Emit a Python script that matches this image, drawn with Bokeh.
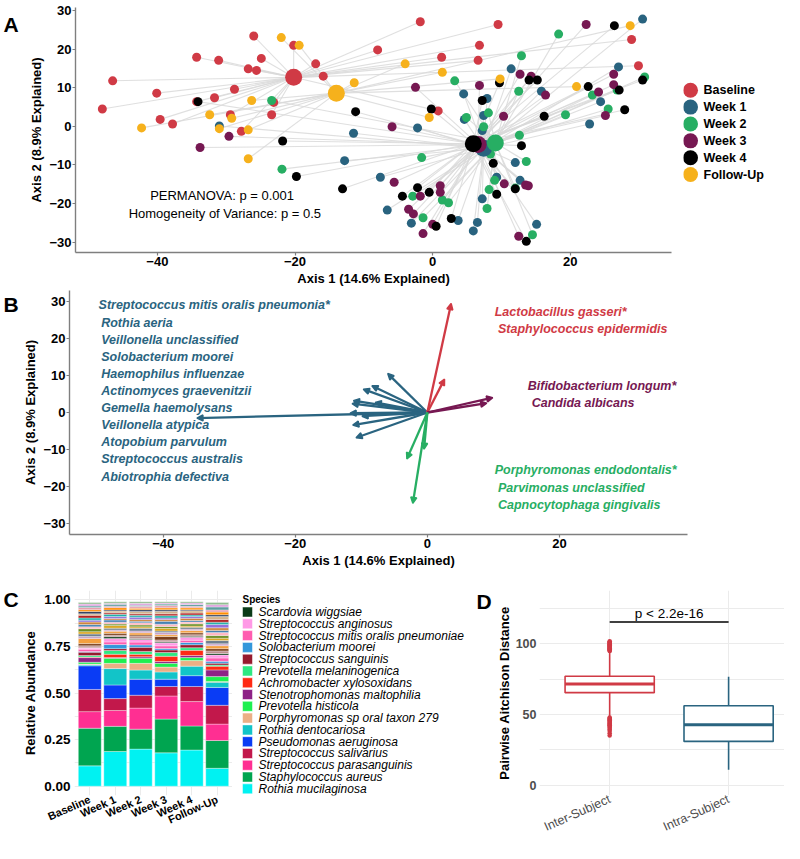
from bokeh.plotting import figure
from bokeh.layouts import column, row
from bokeh.models import (ColumnDataSource, Range1d, Arrow, NormalHead, FixedTicker,
                          NumeralTickFormatter)
from bokeh.embed import file_html
from bokeh.resources import INLINE
from bokeh.core.properties import value

FONT = "Liberation Sans"

# ---------------- Panel A data (PCA of Aitchison distance) ----------------
groups = ["Baseline", "Week 1", "Week 2", "Week 3", "Week 4", "Follow-Up"]
group_colors = ["#D03A45", "#29637F", "#27AE63", "#761852", "#000000", "#F6B11C"]
centroid_x = [-20.2, 7.4, 9.1, 6.6, 5.9, -14.0]
centroid_y = [12.7, -5.7, -4.3, -4.7, -4.5, 8.6]

baseline_x = [-26.0, -20.2, -34.3, -31.1, -24.9, -26.8, -25.6, -17.0, -15.9, -8.0,
              -46.5, -40.1, -28.8, -48.0, -31.7, -34.3, -23.1, -39.6, -37.8, -29.4,
              -23.4, -27.8, -1.8, 9.5, 1.3, 6.8, 6.6, 0.8, 28.9, 29.9]
baseline_y = [23.4, 21.0, 17.9, 17.1, 17.6, 14.9, 14.5, 16.2, 13.0, 19.8,
              11.8, 8.6, 9.6, 4.5, 7.4, 6.4, 6.2, 1.8, 0.6, 3.0,
              3.0, -1.3, 27.1, 26.4, 17.9, 21.0, 17.1, 4.0, 22.5, 15.7]
week1_x = [-31.0, -11.5, -12.8, -7.6, -6.6, 4.5, 7.9, 7.4, 4.6, 7.2,
           -2.2, 30.5, 11.4, 27.0, 15.8, 24.4, 22.8, 12.0, 9.3, 12.7,
           7.2, -3.1, 3.7, 6.5, 5.9, 15.1]
week1_y = [0.1, -1.8, -8.9, -13.2, -21.7, 8.4, 7.2, 2.8, 1.8, -1.1,
           -0.4, 27.8, 14.9, 15.4, 9.1, 6.4, 0.6, -9.4, -13.2, -14.0,
           -18.8, -25.1, -24.4, -24.9, -27.1, -25.4]
week2_x = [-23.4, -21.9, 3.2, 8.1, 4.9, 7.4, 18.3, 12.9, 12.5, 30.8,
           23.2, 26.8, 25.5, 19.3, 12.6, 8.4, 13.6, -1.6, 9.0, -2.9,
           1.4, 2.3, 8.2, 7.9, -1.4, 14.5, 12.0]
week2_y = [6.7, -11.1, 11.8, 3.5, 2.3, -0.1, 23.9, 18.3, 9.1, 12.8,
           8.1, 9.4, 4.5, 3.0, -2.3, -7.2, -9.1, -8.1, -14.0, -18.1,
           -19.1, -19.8, -16.4, -21.3, -23.7, -28.1, -16.0]
week3_x = [-29.6, -33.8, -5.9, -5.6, -2.5, 6.8, 22.3, 12.7, 14.3, 16.4,
           26.3, 26.3, 24.1, 25.1, 10.3, 10.4, 13.5, 13.9, -1.8, 1.1,
           1.1, -3.5, -2.8, 0.0, -1.4, 12.5]
week3_y = [-2.6, -5.5, -0.1, -14.5, 10.1, 10.6, 26.4, 13.5, 13.0, 8.1,
           13.5, 10.8, 8.9, 2.8, 2.6, -14.9, -15.2, -15.4, -18.1, -15.4,
           -17.1, -21.5, -22.7, -25.4, -27.8, -28.5]
week4_x = [-34.1, -11.2, -21.8, -19.8, -13.1, 7.2, -0.2, 26.4, 14.0, 15.2,
           9.7, 22.6, 30.5, 27.1, 27.9, 16.2, 12.9, 8.8, 12.0, -2.2,
           -4.4, -0.5, 9.3, 2.7, 0.5, 13.6]
week4_y = [6.4, 3.8, -3.8, -13.0, -16.2, 6.7, 4.5, 26.1, 12.0, 12.0,
           11.3, 10.3, 12.0, 9.4, 4.3, 2.6, -5.0, -9.6, -16.2, -15.9,
           -18.1, -17.1, -17.6, -23.9, -25.9, -29.8]
followup_x = [-22.0, -19.4, -11.4, -26.3, -32.4, -29.2, -42.3, -31.0, -26.8, -26.8,
              -4.0, 1.4, -0.5, 28.7, 9.8, 20.9]
followup_y = [23.0, 21.0, 11.3, 6.7, 3.0, 2.1, -0.4, -0.6, -0.9, -8.4,
              16.2, 14.0, 2.3, 26.1, 12.3, 10.3]

stats_text = ["PERMANOVA: p = 0.001", "Homogeneity of Variance: p = 0.5"]
stats_x = [-30.6, -30.2]
stats_y = [-17.9, -22.5]

# ---------------- Panel B data (biplot loadings) ----------------
blue_taxa = ["Streptococcus mitis oralis pneumonia*", "Rothia aeria", "Veillonella unclassified",
             "Solobacterium moorei", "Haemophilus influenzae", "Actinomyces graevenitzii",
             "Gemella haemolysans", "Veillonella atypica", "Atopobium parvulum",
             "Streptococcus australis", "Abiotrophia defectiva"]
blue_arrow_x = [-34.9, -6.0, -9.7, -8.4, -11.2, -11.4, -7.9, -11.7, -9.9, -11.3, -10.8]
blue_arrow_y = [-1.5, 10.5, 6.3, 7.2, 3.2, 2.4, 2.7, -0.2, -1.0, -3.4, -6.8]
blue_label_x = [-49.8, -49.4, -49.4, -49.4, -49.4, -49.4, -49.4, -49.4, -49.4, -49.4, -49.4]
blue_label_y = [28.9, 24.2, 19.6, 15.0, 10.4, 5.8, 1.2, -3.4, -8.0, -12.6, -17.3]

red_taxa = ["Lactobacillus gasseri*", "Staphylococcus epidermidis"]
red_arrow_x = [3.6, 2.6]
red_arrow_y = [29.4, 9.0]
red_label_x = [10.2, 10.7]
red_label_y = [27.2, 22.6]

purple_taxa = ["Bifidobacterium longum*", "Candida albicans"]
purple_arrow_x = [9.9, 9.0]
purple_arrow_y = [4.0, 2.5]
purple_label_x = [15.2, 15.8]
purple_label_y = [7.2, 2.5]

green_taxa = ["Porphyromonas endodontalis*", "Parvimonas unclassified", "Capnocytophaga gingivalis"]
green_arrow_x = [-2.2, -3.1, -0.5]
green_arrow_y = [-24.5, -12.5, -9.9]
green_label_x = [10.2, 10.7, 10.7]
green_label_y = [-15.6, -20.3, -24.9]

# ---------------- Panel C data (relative abundance) ----------------
time_points = ["Baseline", "Week 1", "Week 2", "Week 3", "Week 4", "Follow-Up"]
species = ["Rothia mucilaginosa", "Staphylococcus aureus", "Streptococcus parasanguinis",
           "Streptococcus salivarius", "Pseudomonas aeruginosa", "Rothia dentocariosa",
           "Porphyromonas sp oral taxon 279", "Prevotella histicola",
           "Stenotrophomonas maltophilia", "Achromobacter xylosoxidans",
           "Prevotella melaninogenica", "Streptococcus sanguinis", "Solobacterium moorei",
           "Streptococcus mitis oralis pneumoniae", "Streptococcus anginosus", "Scardovia wiggsiae"]
species_colors = ["#00F2F2", "#00A550", "#FF2F92", "#C2184B", "#0A3CF5", "#12C4C8",
                  "#EBAF85", "#1EF050", "#8E2286", "#FF2A14", "#2EE882", "#971A2E",
                  "#3497DB", "#FF5CB0", "#FF99E6", "#0B3B18"]
abund_baseline = [0.109, 0.202, 0.089, 0.119, 0.127, 0.006, 0.003, 0.010, 0.025, 0.003, 0.008, 0.018, 0.004, 0.012, 0.006, 0.002]
abund_week1 = [0.186, 0.135, 0.085, 0.064, 0.073, 0.088, 0.028, 0.027, 0.004, 0.018, 0.020, 0.010, 0.022, 0.014, 0.018, 0.010]
abund_week2 = [0.199, 0.107, 0.113, 0.069, 0.086, 0.049, 0.036, 0.027, 0.008, 0.014, 0.015, 0.022, 0.013, 0.015, 0.014, 0.006]
abund_week3 = [0.179, 0.181, 0.124, 0.051, 0.039, 0.039, 0.026, 0.020, 0.010, 0.028, 0.020, 0.014, 0.008, 0.014, 0.016, 0.006]
abund_week4 = [0.194, 0.129, 0.131, 0.081, 0.058, 0.051, 0.030, 0.016, 0.011, 0.028, 0.014, 0.016, 0.012, 0.012, 0.016, 0.006]
abund_followup = [0.096, 0.149, 0.088, 0.101, 0.096, 0.028, 0.004, 0.026, 0.036, 0.020, 0.006, 0.010, 0.010, 0.018, 0.016, 0.008]

other_colors = ["#BC8F8F", "#7B3F1D", "#F4A040", "#C8A2C8", "#708090", "#DAA520", "#6B8E23",
                "#FFB6C1", "#4682B4", "#CD853F", "#9370DB", "#20B2AA", "#B22222", "#D2B48C",
                "#2F3F5F", "#FF8C00", "#E6A0B0", "#5F9EA0", "#DDA0DD", "#8FBC8F"]
other_baseline = [0.010, 0.012, 0.028, 0.010, 0.014, 0.012, 0.016, 0.010, 0.012, 0.014,
                  0.010, 0.012, 0.014, 0.008, 0.012, 0.010, 0.012, 0.008, 0.010, 0.008]
other_week1 = [0.008, 0.010, 0.012, 0.006, 0.010, 0.014, 0.008, 0.010, 0.012, 0.008,
               0.010, 0.012, 0.008, 0.010, 0.006, 0.012, 0.008, 0.010, 0.006, 0.008]
other_week2 = [0.010, 0.008, 0.012, 0.010, 0.014, 0.008, 0.010, 0.012, 0.008, 0.010,
               0.012, 0.010, 0.008, 0.012, 0.010, 0.008, 0.010, 0.006, 0.010, 0.009]
other_week3 = [0.010, 0.018, 0.010, 0.012, 0.008, 0.014, 0.010, 0.012, 0.016, 0.010,
               0.008, 0.012, 0.010, 0.014, 0.008, 0.010, 0.012, 0.008, 0.006, 0.007]
other_week4 = [0.008, 0.010, 0.012, 0.008, 0.010, 0.006, 0.012, 0.010, 0.008, 0.012,
               0.010, 0.008, 0.010, 0.012, 0.006, 0.010, 0.008, 0.010, 0.008, 0.007]
other_followup = [0.014, 0.012, 0.016, 0.010, 0.018, 0.012, 0.014, 0.016, 0.012, 0.014,
                  0.018, 0.012, 0.014, 0.016, 0.010, 0.014, 0.012, 0.016, 0.012, 0.011]
legend_title_c = "Species"

# ---------------- Panel D data (pairwise Aitchison distance) ----------------
comparisons = ["Inter-Subject", "Intra-Subject"]
box_colors = ["#D03A45", "#2A6480"]
box_q1 = [65.4, 31.0]
box_median = [71.5, 42.7]
box_q3 = [77.0, 56.2]
whisker_low = [48.3, 11.0]
whisker_high = [94.4, 76.6]
inter_outliers = [94.8, 95.2, 95.6, 96.0, 96.4, 96.8, 97.2, 97.6, 98.0, 98.4, 98.8, 99.2,
                  99.6, 100.0, 100.4, 100.8, 101.2, 101.6,
                  47.8, 47.2, 46.6, 46.0, 45.4, 44.8, 44.2, 43.6, 43.0, 42.4, 41.8,
                  41.2, 40.4, 39.4, 38.4, 36.8, 35.2]
sig_label = "p < 2.2e-16"
sig_y = 115.3

panel_letters = ["A", "B", "C", "D"]


def blank_fig(width, height, x_range, y_range):
    f = figure(width=width, height=height, x_range=x_range, y_range=y_range,
               output_backend="svg", toolbar_location=None,
               x_axis_location=None, y_axis_location=None, min_border=0)
    f.outline_line_color = None
    f.xgrid.grid_line_color = None
    f.ygrid.grid_line_color = None
    return f


def add_letter(f, letter, x, y):
    f.text(x=[x], y=[y], text=[letter], text_font=value(FONT), text_font_size="21px",
           text_font_style="bold", text_color="black", text_align="left",
           text_baseline="middle")


def classic_axes(p, xticks, yticks, xlabel, ylabel):
    p.outline_line_color = None
    p.xgrid.grid_line_color = None
    p.ygrid.grid_line_color = None
    for ax in (p.xaxis[0], p.yaxis[0]):
        ax.axis_line_color = "#7F7F7F"
        ax.axis_line_width = 1.4
        ax.major_tick_line_color = "#7F7F7F"
        ax.major_tick_line_width = 1.2
        ax.major_tick_out = 3
        ax.major_tick_in = 0
        ax.minor_tick_line_color = None
        ax.major_label_text_font = FONT
        ax.major_label_text_font_style = "bold"
        ax.major_label_text_font_size = "13px"
        ax.major_label_text_color = "black"
        ax.major_label_standoff = 1
        ax.axis_label_text_font = FONT
        ax.axis_label_text_font_style = "bold"
        ax.axis_label_text_font_size = "13px"
        ax.axis_label_text_color = "black"
        ax.axis_label_standoff = 2
    p.xaxis.ticker = FixedTicker(ticks=xticks)
    p.yaxis.ticker = FixedTicker(ticks=yticks)
    p.xaxis.axis_label = xlabel
    p.yaxis.axis_label = ylabel


# ================= Panel A =================
HA = 288
pA = figure(width=663, height=HA, x_range=Range1d(-51.9, 34.7), y_range=Range1d(-32.7, 30.8),
            output_backend="svg", toolbar_location=None,
            min_border_left=55, min_border_right=12, min_border_top=7, min_border_bottom=0)
classic_axes(pA, [-40, -20, 0, 20], [-30, -20, -10, 0, 10, 20, 30],
             "Axis 1 (14.6% Explained)", "Axis 2 (8.9% Explained)")

pts_x = [baseline_x, week1_x, week2_x, week3_x, week4_x, followup_x]
pts_y = [baseline_y, week1_y, week2_y, week3_y, week4_y, followup_y]
seg = dict(x0=[], y0=[], x1=[], y1=[])
pts = dict(x=[], y=[], c=[])
for gi in range(len(groups)):
    for xv, yv in zip(pts_x[gi], pts_y[gi]):
        seg["x0"].append(centroid_x[gi]); seg["y0"].append(centroid_y[gi])
        seg["x1"].append(xv); seg["y1"].append(yv)
        pts["x"].append(xv); pts["y"].append(yv); pts["c"].append(group_colors[gi])
pA.segment(x0="x0", y0="y0", x1="x1", y1="y1", source=ColumnDataSource(seg),
           line_color="#D9D9D9", line_width=1.1, line_alpha=0.85)
pA.scatter(x="x", y="y", source=ColumnDataSource(pts), size=9, fill_color="c",
           line_color=None)
cen_order = [1, 3, 2, 4, 0, 5]
cen = dict(x=[centroid_x[i] for i in cen_order], y=[centroid_y[i] for i in cen_order],
           c=[group_colors[i] for i in cen_order])
pA.scatter(x="x", y="y", source=ColumnDataSource(cen), size=17, fill_color="c", line_color=None)
pA.text(x="x", y="y", text="t",
        source=ColumnDataSource(dict(x=stats_x, y=stats_y, t=stats_text)),
        text_font=value(FONT), text_font_size="13px", text_color="black",
        text_align="center", text_baseline="middle")

letA = blank_fig(20, HA, Range1d(0, 20), pA.y_range)
add_letter(letA, panel_letters[0], 3, 26.5)

# legend panel for A (shares the y scale of panel A)
pAL = blank_fig(101, HA, Range1d(0, 101), pA.y_range)
leg_top, leg_step = 9.35, 4.37
legA = dict(x=[7] * len(groups), tx=[20] * len(groups),
            y=[leg_top - leg_step * i for i in range(len(groups))],
            label=groups, c=group_colors)
legA_src = ColumnDataSource(legA)
pAL.scatter(x="x", y="y", source=legA_src, size=15, fill_color="c", line_color=None)
pAL.text(x="tx", y="y", text="label", source=legA_src, text_font=value(FONT),
         text_font_size="12.5px", text_font_style="bold", text_color="black",
         text_align="left", text_baseline="middle")

# ================= Panel B =================
HB = 282
pB = figure(width=764, height=HB, x_range=Range1d(-54.2, 39.4), y_range=Range1d(-32.9, 32.9),
            output_backend="svg", toolbar_location=None,
            min_border_left=49, min_border_right=97, min_border_top=2, min_border_bottom=0)
classic_axes(pB, [-40, -20, 0, 20], [-30, -20, -10, 0, 10, 20, 30],
             "Axis 1 (14.6% Explained)", "Axis 2 (8.9% Explained)")

b_sets = [
    (blue_taxa, blue_arrow_x, blue_arrow_y, blue_label_x, blue_label_y, "#2A6480"),
    (red_taxa, red_arrow_x, red_arrow_y, red_label_x, red_label_y, "#D03A45"),
    (purple_taxa, purple_arrow_x, purple_arrow_y, purple_label_x, purple_label_y, "#761852"),
    (green_taxa, green_arrow_x, green_arrow_y, green_label_x, green_label_y, "#27AE63"),
]
for taxa, ax_, ay_, lx, ly, col in b_sets:
    src = ColumnDataSource(dict(x0=[0.0] * len(ax_), y0=[0.0] * len(ay_), x1=ax_, y1=ay_))
    pB.add_layout(Arrow(end=NormalHead(size=6, fill_color=col, line_color=col, line_width=1.5),
                        x_start="x0", y_start="y0", x_end="x1", y_end="y1", source=src,
                        line_color=col, line_width=2.3))
    pB.text(x="x", y="y", text="t", source=ColumnDataSource(dict(x=lx, y=ly, t=taxa)),
            text_font=value(FONT), text_font_size="12.5px", text_font_style="bold italic",
            text_color=col, text_align="left", text_baseline="middle")

letB = blank_fig(20, HB, Range1d(0, 20), pB.y_range)
add_letter(letB, panel_letters[1], 3, 29.1)

# ================= Panel C =================
HC = 273
pC = figure(width=212, height=HC, x_range=Range1d(0.4, 6.6), y_range=Range1d(-0.05, 1.05),
            output_backend="svg", toolbar_location=None,
            min_border_left=51, min_border_right=0, min_border_top=20, min_border_bottom=0)
pC.outline_line_color = None
abund_by_tp = [abund_baseline, abund_week1, abund_week2, abund_week3, abund_week4, abund_followup]
other_by_tp = [other_baseline, other_week1, other_week2, other_week3, other_week4, other_followup]
cdata = dict(x=list(range(1, len(time_points) + 1)))
stackers, colors = [], []
for i in range(len(species)):
    cdata[f"sp{i}"] = [a[i] for a in abund_by_tp]
    stackers.append(f"sp{i}"); colors.append(species_colors[i])
for j in range(len(other_colors)):
    cdata[f"ot{j}"] = [o[j] for o in other_by_tp]
    stackers.append(f"ot{j}"); colors.append(other_colors[j])
rends = pC.vbar_stack(stackers, x="x", width=0.9, color=colors, source=ColumnDataSource(cdata),
                      line_color="white", line_width=0.35)
pC.xaxis.ticker = FixedTicker(ticks=cdata["x"])
pC.xaxis.major_label_overrides = {i + 1: t for i, t in enumerate(time_points)}
pC.xaxis.major_label_orientation = 0.42
pC.yaxis.ticker = FixedTicker(ticks=[0, 0.25, 0.5, 0.75, 1.0])
pC.yaxis.formatter = NumeralTickFormatter(format="0.00")
pC.yaxis.axis_label = "Relative Abundance"
for ax in (pC.xaxis[0], pC.yaxis[0]):
    ax.axis_line_color = None
    ax.major_tick_line_color = None
    ax.minor_tick_line_color = None
    ax.major_tick_out = 0
    ax.major_tick_in = 0
    ax.major_label_text_font = FONT
    ax.major_label_text_font_style = "bold"
    ax.major_label_text_color = "black"
    ax.axis_label_text_font = FONT
    ax.axis_label_text_font_style = "bold"
    ax.axis_label_text_font_size = "13px"
    ax.axis_label_text_color = "black"
    ax.axis_label_standoff = 3
pC.xaxis.major_label_text_font_size = "11px"
pC.yaxis.major_label_text_font_size = "13.5px"
pC.xaxis.major_label_standoff = 3
pC.yaxis.major_label_standoff = 4
pC.xgrid.ticker = FixedTicker(ticks=cdata["x"])
pC.ygrid.ticker = FixedTicker(ticks=[0, 0.125, 0.25, 0.375, 0.5, 0.625, 0.75, 0.875, 1.0])
pC.xgrid.grid_line_color = "#EBEBEB"
pC.ygrid.grid_line_color = "#EBEBEB"

letC = blank_fig(20, HC, Range1d(0, 20), pC.y_range)
add_letter(letC, panel_letters[2], 3, 1.0)

# legend for panel C (own figure, fractional y from frame top), also carries letter D
pCL = blank_fig(261, HC, Range1d(0, 261), Range1d(1, 0))
n_sp = len(species)
leg_order = list(reversed(range(n_sp)))
row0, row_step = 0.105, 0.0575
legC = dict(x=[15] * n_sp, tx=[26] * n_sp,
            y=[row0 + row_step * k for k in range(n_sp)],
            label=[species[i] for i in leg_order], c=[species_colors[i] for i in leg_order])
legC_src = ColumnDataSource(legC)
pCL.scatter(x="x", y="y", source=legC_src, marker="square", size=10, fill_color="c",
            line_color="white", line_width=0.5)
pCL.text(x="tx", y="y", text="label", source=legC_src, text_font=value(FONT),
         text_font_size="12px", text_font_style="italic", text_color="black",
         text_align="left", text_baseline="middle")
pCL.text(x=[10], y=[0.045], text=[legend_title_c], text_font=value(FONT),
         text_font_size="10px", text_font_style="bold", text_color="black",
         text_align="left", text_baseline="middle")
add_letter(pCL, panel_letters[3], 244, 0.055)

# ================= Panel D =================
pD = figure(width=291, height=HC, x_range=Range1d(0.41, 2.47), y_range=Range1d(-7.2, 137.5),
            output_backend="svg", toolbar_location=None,
            min_border_left=42, min_border_right=0, min_border_top=20, min_border_bottom=0)
pD.outline_line_color = None
bx = [1, 2]
bsrc = ColumnDataSource(dict(x=bx, left=[v - 0.375 for v in bx], right=[v + 0.375 for v in bx],
                             q1=box_q1, med=box_median, q3=box_q3, lo=whisker_low,
                             hi=whisker_high, c=box_colors))
pD.segment(x0="x", y0="q3", x1="x", y1="hi", source=bsrc, line_color="c", line_width=1.6)
pD.segment(x0="x", y0="q1", x1="x", y1="lo", source=bsrc, line_color="c", line_width=1.6)
pD.quad(left="left", right="right", bottom="q1", top="q3", source=bsrc,
        fill_color="white", line_color="c", line_width=1.6)
pD.segment(x0="left", y0="med", x1="right", y1="med", source=bsrc, line_color="c", line_width=3)
pD.scatter(x=[bx[0]] * len(inter_outliers), y=inter_outliers, size=4.5,
           fill_color=box_colors[0], line_color=None)
pD.segment(x0=[bx[0]], y0=[sig_y], x1=[bx[1]], y1=[sig_y], line_color="black", line_width=1.5)
pD.text(x=[(bx[0] + bx[1]) / 2], y=[sig_y + 0.8], text=[sig_label], text_font=value(FONT),
        text_font_size="13.5px", text_color="black", text_align="center",
        text_baseline="bottom")
pD.xaxis.ticker = FixedTicker(ticks=bx)
pD.xaxis.major_label_overrides = {i + 1: t for i, t in enumerate(comparisons)}
pD.xaxis.major_label_orientation = 0.42
pD.yaxis.ticker = FixedTicker(ticks=[0, 50, 100])
pD.yaxis.axis_label = "Pairwise Aitchison Distance"
for ax in (pD.xaxis[0], pD.yaxis[0]):
    ax.axis_line_color = None
    ax.major_tick_line_color = None
    ax.minor_tick_line_color = None
    ax.major_tick_out = 0
    ax.major_tick_in = 0
    ax.major_label_text_font = FONT
    ax.major_label_text_color = "#4D4D4D"
    ax.axis_label_text_font = FONT
    ax.axis_label_text_font_style = "bold"
    ax.axis_label_text_font_size = "13px"
    ax.axis_label_text_color = "black"
    ax.axis_label_standoff = 1
pD.xaxis.major_label_text_font_size = "12.5px"
pD.yaxis.major_label_text_font_size = "12.5px"
pD.yaxis.major_label_text_font_style = "bold"
pD.yaxis.major_label_standoff = 3
pD.xaxis.major_label_standoff = 3
pD.xgrid.ticker = FixedTicker(ticks=bx)
pD.ygrid.ticker = FixedTicker(ticks=[0, 25, 50, 75, 100, 125])
pD.xgrid.grid_line_color = "#EBEBEB"
pD.ygrid.grid_line_color = "#EBEBEB"

layout = column(row(letA, pA, pAL), row(letB, pB), row(letC, pC, pCL, pD))
open("out.html", "w").write(file_html(layout, INLINE))
